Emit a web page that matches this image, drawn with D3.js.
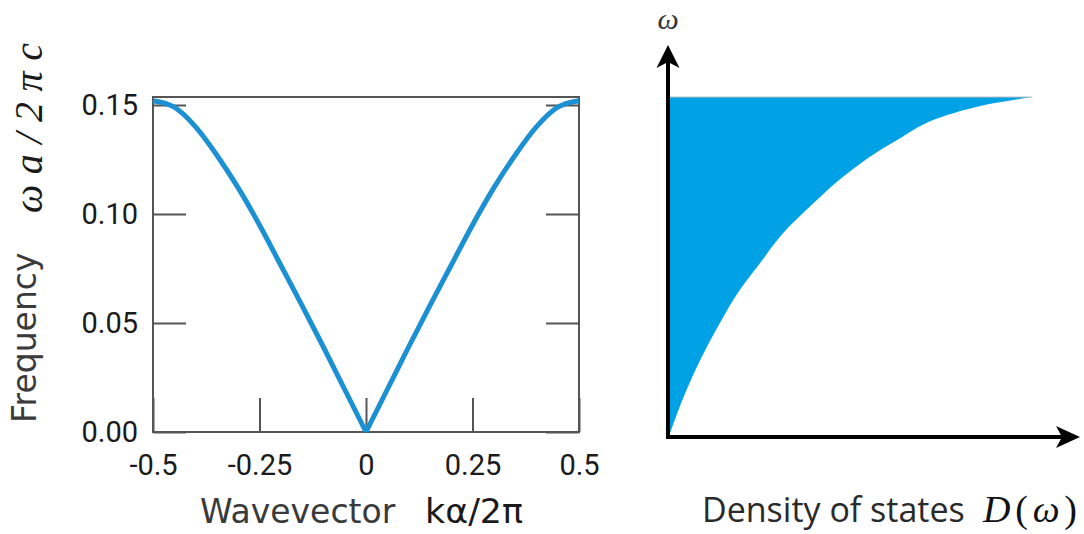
<!DOCTYPE html>
<html>
<head>
<meta charset="utf-8">
<script src="https://cdn.jsdelivr.net/npm/d3@7"></script>
<style>
  body { margin: 0; background: #fff; }
  svg { display: block; }
</style>
</head>
<body>
<div id="vis"></div>
<script>
// dispersion data
const kValues = [-0.5, -0.45, -0.4, -0.35, -0.3, -0.25, -0.2, -0.15, -0.1, -0.05, 0,
                 0.05, 0.1, 0.15, 0.2, 0.25, 0.3, 0.35, 0.4, 0.45, 0.5];
const omegaValues = [0.152, 0.149, 0.140, 0.127, 0.112, 0.095, 0.0765, 0.058, 0.039, 0.0195, 0,
                     0.0195, 0.039, 0.058, 0.0765, 0.095, 0.112, 0.127, 0.140, 0.149, 0.152];
const xTicks = [-0.5, -0.25, 0, 0.25, 0.5];
const xTickLabels = ['-0.5', '-0.25', '0', '0.25', '0.5'];
const yTicks = [0, 0.05, 0.10, 0.15];

// density of states (normalised omega, normalised D)
const dosOmega = [0, 0.133, 0.231, 0.331, 0.429, 0.509, 0.598, 0.686, 0.775, 0.867, 0.953, 0.982, 1.0];
const dosValues = [0, 0.047, 0.089, 0.139, 0.194, 0.25, 0.314, 0.397, 0.492, 0.619, 0.786, 0.897, 1.0];

const W = 1084, H = 534;

const svg = d3.select('#vis')
    .append('svg')
    .attr('width', W)
    .attr('height', H);

// ---------- left panel ----------
const xScale = d3.scaleLinear().domain([-0.5, 0.5]).range([153, 579]);
const yScale = d3.scaleLinear().domain([0, 0.1537]).range([432, 97]);
const frameColor = '#555';

const left = svg.append('g');

const yAxis = d3.axisLeft(yScale)
    .tickValues(yTicks)
    .tickSize(-33)
    .tickPadding(15)
    .tickFormat(d3.format('.2f'));
left.append('g')
    .attr('transform', `translate(153,0)`)
    .call(yAxis)
    .call(g => g.select('.domain').remove())
    .call(g => g.selectAll('line').attr('stroke', frameColor).attr('stroke-width', 2))
    .call(g => g.selectAll('text')
        .attr('font-family', 'Roboto, sans-serif')
        .attr('font-size', 29)
        .attr('fill', '#1a1a1a'));

const yAxisR = d3.axisRight(yScale)
    .tickValues(yTicks)
    .tickSize(-33)
    .tickFormat('');
left.append('g')
    .attr('transform', `translate(579,0)`)
    .call(yAxisR)
    .call(g => g.select('.domain').remove())
    .call(g => g.selectAll('line').attr('stroke', frameColor).attr('stroke-width', 2));

const xAxis = d3.axisBottom(xScale)
    .tickValues(xTicks)
    .tickSize(-34)
    .tickFormat((d, i) => xTickLabels[i]);
left.append('g')
    .attr('transform', `translate(0,432)`)
    .call(xAxis)
    .call(g => g.select('.domain').remove())
    .call(g => g.selectAll('line').attr('stroke', frameColor).attr('stroke-width', 2))
    .call(g => g.selectAll('text')
        .attr('y', 43)
        .attr('dy', null)
        .attr('font-family', 'Roboto, sans-serif')
        .attr('font-size', 29)
        .attr('fill', '#1a1a1a'));

// frame
left.append('rect')
    .attr('x', xScale(-0.5))
    .attr('y', yScale(0.1537))
    .attr('width', xScale(0.5) - xScale(-0.5))
    .attr('height', yScale(0) - yScale(0.1537))
    .attr('fill', 'none')
    .attr('stroke', frameColor)
    .attr('stroke-width', 2);

// dispersion curve, drawn as two branches so the vertex stays sharp
const points = kValues.map((k, i) => ({ k: k, w: omegaValues[i] }));
const line = d3.line()
    .x(d => xScale(d.k))
    .y(d => yScale(d.w))
    .curve(d3.curveMonotoneX);

[points.filter(d => d.k <= 0), points.filter(d => d.k >= 0)].forEach(branch => {
    left.append('path')
        .datum(branch)
        .attr('d', line)
        .attr('fill', 'none')
        .attr('stroke', '#1b90d2')
        .attr('stroke-width', 5)
        .attr('stroke-linejoin', 'round');
});

// axis titles
left.append('text')
    .attr('x', 200)
    .attr('y', 523)
    .attr('font-family', 'DejaVu Sans, sans-serif')
    .attr('font-size', 33)
    .attr('fill', '#3a3a3a')
    .text('Wavevector');
left.append('text')
    .attr('x', 425)
    .attr('y', 523)
    .attr('font-family', 'DejaVu Sans, sans-serif')
    .attr('font-size', 33)
    .attr('textLength', 98)
    .attr('lengthAdjust', 'spacingAndGlyphs')
    .attr('fill', '#1a1a1a')
    .text('kα/2π');

left.append('text')
    .attr('transform', 'translate(36,423) rotate(-90)')
    .attr('font-family', 'DejaVu Sans, sans-serif')
    .attr('font-size', 33)
    .attr('fill', '#3a3a3a')
    .text('Frequency');
left.append('text')
    .attr('transform', 'translate(42,213) rotate(-90)')
    .attr('font-family', 'Liberation Serif, serif')
    .attr('font-style', 'italic')
    .attr('font-size', 40)
    .attr('textLength', 170)
    .attr('lengthAdjust', 'spacing')
    .attr('fill', '#1a1a1a')
    .text('ωa/2πc');

// ---------- right panel ----------
const dx = d3.scaleLinear().domain([0, 1]).range([669, 1032]);
const dy = d3.scaleLinear().domain([0, 1]).range([436, 97]);

const right = svg.append('g');
const dos = dosOmega.map((w, i) => ({ w: w, D: dosValues[i] }));

const area = d3.area()
    .y(d => dy(d.w))
    .x0(dx(0))
    .x1(d => dx(d.D))
    .curve(d3.curveMonotoneY);

right.append('path')
    .datum(dos)
    .attr('d', area)
    .attr('fill', '#00a2e5');

right.append('line')
    .attr('x1', dx(0)).attr('x2', dx(1))
    .attr('y1', dy(1)).attr('y2', dy(1))
    .attr('stroke', '#bdbdbd')
    .attr('stroke-width', 1);

// arrows
const ox = 668, oy = 437;
right.append('line')
    .attr('x1', ox).attr('y1', oy + 2)
    .attr('x2', ox).attr('y2', 60)
    .attr('stroke', '#000').attr('stroke-width', 4);
right.append('path')
    .attr('d', `M${ox},45 L${ox + 11.5},68 L${ox},62 L${ox - 11.5},68 Z`)
    .attr('fill', '#000');
right.append('line')
    .attr('x1', ox - 2).attr('y1', oy)
    .attr('x2', 1068).attr('y2', oy)
    .attr('stroke', '#000').attr('stroke-width', 4);
right.append('path')
    .attr('d', `M1080,${oy} L1056,${oy - 11} L1062,${oy} L1056,${oy + 11} Z`)
    .attr('fill', '#000');

right.append('text')
    .attr('x', ox)
    .attr('y', 29)
    .attr('text-anchor', 'middle')
    .attr('font-family', 'Liberation Serif, serif')
    .attr('font-style', 'italic')
    .attr('font-size', 30)
    .attr('fill', '#333')
    .text('ω');

right.append('text')
    .attr('x', 702)
    .attr('y', 522)
    .attr('font-family', 'Open Sans, sans-serif')
    .attr('font-size', 34)
    .attr('fill', '#2a2a2a')
    .text('Density of states');
right.append('text')
    .attr('x', 983)
    .attr('y', 522)
    .attr('font-family', 'Liberation Serif, serif')
    .attr('font-size', 38)
    .attr('textLength', 94)
    .attr('lengthAdjust', 'spacing')
    .attr('fill', '#111')
    .html('<tspan font-style="italic">D</tspan>(<tspan font-style="italic">ω</tspan>)');
</script>
</body>
</html>
